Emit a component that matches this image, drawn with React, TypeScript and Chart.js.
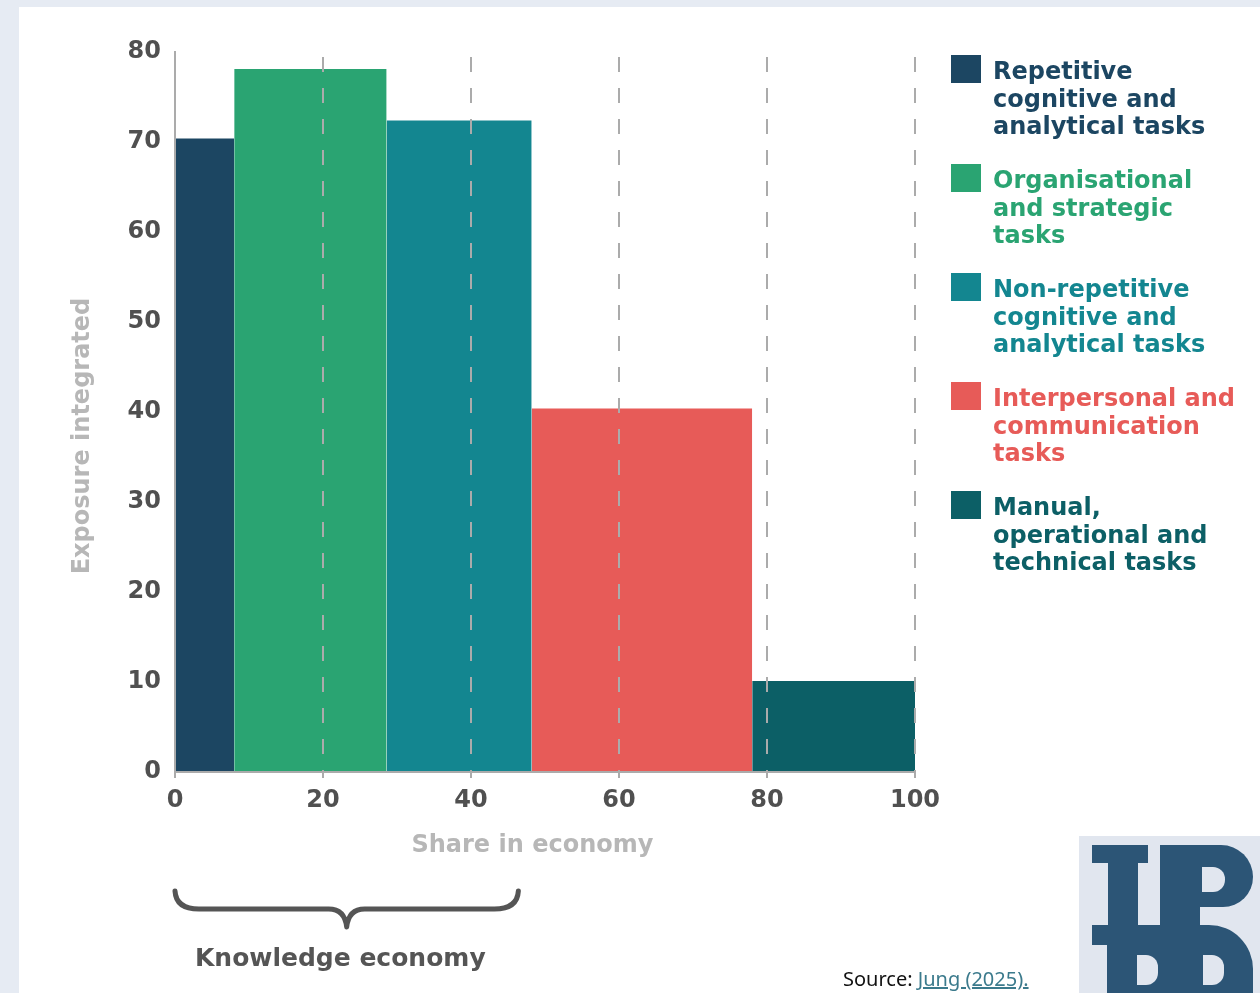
import React, { useEffect, useRef } from "react";
import { Chart, registerables } from "chart.js";

Chart.register(...registerables);

// ---- data ----
const categories = [
  "Repetitive cognitive and analytical tasks",
  "Organisational and strategic tasks",
  "Non-repetitive cognitive and analytical tasks",
  "Interpersonal and communication tasks",
  "Manual, operational and technical tasks",
];
const legendLines = [
  ["Repetitive", "cognitive and", "analytical tasks"],
  ["Organisational", "and strategic", "tasks"],
  ["Non-repetitive", "cognitive and", "analytical tasks"],
  ["Interpersonal and", "communication", "tasks"],
  ["Manual,", "operational and", "technical tasks"],
];
const shareInEconomy = [8, 20.6, 19.6, 29.8, 22];
const exposureIntegrated = [70.4, 78.1, 72.4, 40.4, 10.1];
const colors = ["#1c4662", "#2aa472", "#138690", "#e75b58", "#0c5f66"];
const xTicks = [0, 20, 40, 60, 80, 100];
const yTicks = [0, 10, 20, 30, 40, 50, 60, 70, 80];
const knowledgeEconomyRange = [0, 46.4];
const xTitle = "Share in economy";
const yTitle = "Exposure integrated";
const braceLabel = "Knowledge economy";

const FONT = "'DejaVu Sans', sans-serif";
const LOGO = "#2c5576";
const LOGO_BG = "#e1e6ef";

function Logo() {
  const r = (s: React.CSSProperties) => ({ position: "absolute" as const, ...s });
  return (
    <div
      style={{
        position: "absolute",
        left: 1079,
        top: 836,
        width: 181,
        height: 157,
        background: LOGO_BG,
        overflow: "hidden",
      }}
    >
      {/* I */}
      <div style={r({ left: 13, top: 9, width: 56, height: 18, background: LOGO })} />
      <div style={r({ left: 29, top: 27, width: 30, height: 64, background: LOGO })} />
      {/* P */}
      <div
        style={r({
          left: 81,
          top: 9,
          width: 93,
          height: 62,
          background: LOGO,
          borderRadius: "0 32px 30px 0",
        })}
      />
      <div
        style={r({
          left: 123,
          top: 31,
          width: 23,
          height: 25,
          background: LOGO_BG,
          borderRadius: "0 12px 12px 0",
        })}
      />
      <div style={r({ left: 81, top: 60, width: 40, height: 32, background: LOGO })} />
      {/* lower B-block */}
      <div
        style={r({
          left: 13,
          top: 89,
          width: 161,
          height: 80,
          background: LOGO,
          borderRadius: "0 44px 0 0",
        })}
      />
      <div style={r({ left: 13, top: 109, width: 15, height: 60, background: LOGO_BG })} />
      <div
        style={r({
          left: 58,
          top: 119,
          width: 21,
          height: 30,
          background: LOGO_BG,
          borderRadius: "0 12px 12px 0",
        })}
      />
      <div
        style={r({
          left: 124,
          top: 119,
          width: 21,
          height: 30,
          background: LOGO_BG,
          borderRadius: "0 12px 12px 0",
        })}
      />
    </div>
  );
}

export default function App() {
  const ref = useRef<HTMLCanvasElement>(null);

  useEffect(() => {
    const starts: number[] = [];
    let acc = 0;
    shareInEconomy.forEach((s) => {
      starts.push(acc);
      acc += s;
    });

    const datasets = categories.map((c, i) => ({
      label: c,
      data: [
        { x: starts[i], y: exposureIntegrated[i] },
        { x: starts[i] + shareInEconomy[i], y: exposureIntegrated[i] },
      ],
      fill: "origin",
      backgroundColor: colors[i],
      borderColor: colors[i],
      borderWidth: 0,
      pointRadius: 0,
      tension: 0,
    }));

    const decor = {
      id: "decor",
      afterDraw(chart: any) {
        const { ctx, chartArea, scales } = chart;
        const xs = scales.x;
        ctx.save();
        // y title
        ctx.font = `bold 24px ${FONT}`;
        ctx.fillStyle = "#b7b7b7";
        ctx.textAlign = "center";
        ctx.textBaseline = "middle";
        ctx.save();
        ctx.translate(83, chartArea.bottom - 336);
        ctx.rotate(-Math.PI / 2);
        ctx.fillText(yTitle, 0, 0);
        ctx.restore();
        // x title
        ctx.fillText(xTitle, xs.getPixelForValue(48.3), chartArea.bottom + 74);

        // brace
        const x0 = xs.getPixelForValue(knowledgeEconomyRange[0]);
        const x1 = xs.getPixelForValue(knowledgeEconomyRange[1]);
        const xm = (x0 + x1) / 2;
        const yTop = chartArea.bottom + 119;
        const yMid = chartArea.bottom + 137;
        const yTip = chartArea.bottom + 155;
        ctx.strokeStyle = "#555555";
        ctx.lineWidth = 5;
        ctx.lineCap = "round";
        ctx.lineJoin = "round";
        ctx.beginPath();
        ctx.moveTo(x0, yTop);
        ctx.quadraticCurveTo(x0 + 1, yMid, x0 + 24, yMid);
        ctx.lineTo(xm - 18, yMid);
        ctx.quadraticCurveTo(xm - 2, yMid, xm, yTip);
        ctx.quadraticCurveTo(xm + 2, yMid, xm + 18, yMid);
        ctx.lineTo(x1 - 24, yMid);
        ctx.quadraticCurveTo(x1 - 1, yMid, x1, yTop);
        ctx.stroke();

        ctx.fillStyle = "#555555";
        ctx.font = `bold 25px ${FONT}`;
        ctx.textAlign = "left";
        ctx.textBaseline = "alphabetic";
        ctx.fillText(braceLabel, x0 + 20, chartArea.bottom + 194);
        ctx.restore();
      },
    };

    const chart = new Chart(ref.current as HTMLCanvasElement, {
      type: "line",
      data: { datasets: datasets as any },
      options: {
        animation: false,
        responsive: false,
        devicePixelRatio: 1,
        layout: { padding: { left: 0, right: 345, top: 52, bottom: 0 } },
        plugins: {
          legend: { display: false },
          tooltip: { enabled: false },
        },
        scales: {
          x: {
            type: "linear",
            min: 0,
            max: 100,
            afterBuildTicks: (s: any) => {
              s.ticks = xTicks.map((v) => ({ value: v }));
            },
            afterFit: (s: any) => {
              s.height = 221;
            },
            grid: {
              display: true,
              color: (c: any) => (c.tick && c.tick.value === 0 ? "rgba(0,0,0,0)" : "#ababab"),
              lineWidth: 2,
              z: 1,
              drawTicks: true,
              tickLength: 6,
              tickColor: "#ababab",
              tickWidth: 2,
              tickBorderDash: [],
            } as any,
            border: {
              display: true,
              color: "#ababab",
              width: 2,
              z: 2,
              dash: [15, 16],
              dashOffset: 26,
            } as any,
            ticks: {
              padding: 8,
              color: "#505050",
              font: { family: FONT, size: 24, weight: "bold" },
              maxRotation: 0,
            },
          },
          y: {
            type: "linear",
            min: 0,
            max: 80,
            afterBuildTicks: (s: any) => {
              s.ticks = yTicks.map((v) => ({ value: v }));
            },
            afterFit: (s: any) => {
              s.width = 175;
            },
            grid: { display: false, drawTicks: false },
            border: { display: true, color: "#ababab", width: 2, z: 2 } as any,
            ticks: {
              padding: 14,
              color: "#505050",
              font: { family: FONT, size: 24, weight: "bold" },
            },
          },
        },
      },
      plugins: [decor],
    });
    return () => chart.destroy();
  }, []);

  return (
    <div
      style={{
        position: "absolute",
        left: 0,
        top: 0,
        width: 1260,
        height: 993,
        overflow: "hidden",
        background: "#e6ebf3",
      }}
    >
      <div
        style={{
          position: "absolute",
          left: 19,
          top: 7,
          right: 0,
          bottom: 0,
          background: "#ffffff",
        }}
      />
      <canvas
        ref={ref}
        width={1260}
        height={993}
        style={{ position: "absolute", left: 0, top: 0, display: "block" }}
      />
      <div
        style={{
          position: "absolute",
          left: 951,
          top: 55,
          display: "flex",
          flexDirection: "column",
          gap: 23.5,
          fontFamily: FONT,
          fontWeight: "bold",
          fontSize: 24,
          lineHeight: "27.5px",
        }}
      >
        {legendLines.map((lines, i) => (
          <div key={i} style={{ display: "flex", alignItems: "flex-start" }}>
            <div
              style={{
                width: 30,
                height: 28,
                background: colors[i],
                marginRight: 12,
                flex: "none",
              }}
            />
            <div style={{ color: colors[i], marginTop: 3, whiteSpace: "nowrap" }}>
              {lines.map((l, j) => (
                <div key={j}>{l}</div>
              ))}
            </div>
          </div>
        ))}
      </div>
      <div
        style={{
          position: "absolute",
          left: 843,
          top: 967,
          fontFamily: "'Noto Sans', sans-serif",
          fontSize: 20,
          lineHeight: "24px",
          color: "#111111",
          whiteSpace: "nowrap",
        }}
      >
        Source:{" "}
        <span style={{ color: "#3b7a8c", textDecoration: "underline" }}>
          Jung (2025).
        </span>
      </div>
      <Logo />
    </div>
  );
}
